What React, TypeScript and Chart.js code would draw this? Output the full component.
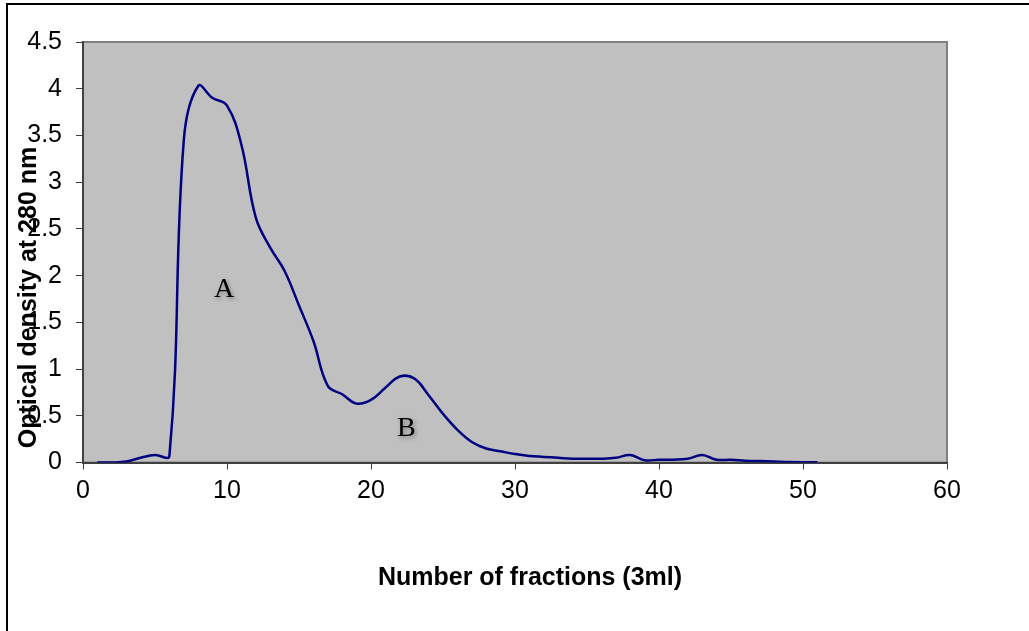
import React, { useEffect, useRef } from "react";
import { Chart, registerables } from "chart.js";

Chart.register(...registerables);

const fractions = [
  1, 2, 3, 4, 5, 6, 7, 8, 9, 10, 11, 12, 13, 14, 15, 16, 17, 18, 19, 20, 21, 22, 23, 24, 25,
  26, 27, 28, 29, 30, 31, 32, 33, 34, 35, 36, 37, 38, 39, 40, 41, 42, 43, 44, 45, 46, 47, 48,
  49, 50, 51,
];
const opticalDensity = [
  0, 0, 0.01, 0.05, 0.08, 0.07, 3.45, 4.03, 3.9, 3.82, 3.4, 2.62, 2.3, 2.05, 1.68, 1.3, 0.82,
  0.73, 0.63, 0.67, 0.8, 0.92, 0.9, 0.72, 0.52, 0.35, 0.22, 0.15, 0.12, 0.09, 0.07, 0.06, 0.05,
  0.04, 0.04, 0.04, 0.05, 0.08, 0.025, 0.03, 0.03, 0.04, 0.08, 0.03, 0.03, 0.02, 0.015, 0.01,
  0.005, 0.003, 0.003,
];
const peakLabels = ["A", "B"];
const peakLabelX = [9.8, 22.45];
const peakLabelY = [1.77, 0.28];

const xTitle = "Number of fractions (3ml)";
const yTitle = "Optical density at 280 nm";

const W = 1029;
const H = 631;

export default function App() {
  const ref = useRef<HTMLCanvasElement | null>(null);

  useEffect(() => {
    if (!ref.current) return;
    const decor = {
      id: "decor",
      beforeDraw(chart: any) {
        const { ctx, chartArea: a } = chart;
        ctx.save();
        ctx.fillStyle = "#ffffff";
        ctx.fillRect(0, 0, chart.width, chart.height);
        ctx.fillStyle = "#C0C0C0";
        ctx.fillRect(a.left, a.top, a.right - a.left, a.bottom - a.top);
        ctx.strokeStyle = "#808080";
        ctx.lineWidth = 2;
        ctx.strokeRect(a.left, a.top, a.right - a.left, a.bottom - a.top);
        ctx.restore();
      },
      afterDraw(chart: any) {
        const { ctx } = chart;
        const xs = chart.scales.x;
        const ys = chart.scales.y;
        ctx.save();
        // outer frame
        ctx.fillStyle = "#000000";
        ctx.fillRect(6, 3, W, 2);
        ctx.fillRect(6, 3, 2, H);
        // x title
        ctx.font = "bold 25px 'Liberation Sans', Arial, sans-serif";
        ctx.textAlign = "center";
        ctx.textBaseline = "alphabetic";
        ctx.fillStyle = "#000000";
        ctx.fillText(xTitle, 530, 585);
        // y title
        ctx.save();
        ctx.translate(36, 297.5);
        ctx.rotate(-Math.PI / 2);
        ctx.fillText(yTitle, 0, 0);
        ctx.restore();
        // peak labels
        ctx.font = "28px 'Liberation Serif', 'DejaVu Serif', serif";
        ctx.shadowColor = "rgba(0,0,0,0.35)";
        ctx.shadowBlur = 4;
        ctx.shadowOffsetX = 1.5;
        ctx.shadowOffsetY = 2;
        peakLabels.forEach((t, i) => {
          ctx.fillText(t, xs.getPixelForValue(peakLabelX[i]), ys.getPixelForValue(peakLabelY[i]));
        });
        ctx.restore();
      },
    };

    const chart = new Chart(ref.current, {
      type: "line",
      data: {
        datasets: [
          {
            data: fractions.map((f, i) => ({ x: f, y: opticalDensity[i] })),
            borderColor: "#000080",
            borderWidth: 2.5,
            pointRadius: 0,
            tension: 0.4,
            fill: false,
          },
        ],
      },
      options: {
        responsive: false,
        animation: false,
        devicePixelRatio: 1,
        layout: { padding: { top: 42, right: 82, bottom: 0, left: 0 } },
        plugins: { legend: { display: false }, tooltip: { enabled: false } },
        scales: {
          x: {
            type: "linear",
            min: 0,
            max: 60,
            ticks: {
              stepSize: 10,
              color: "#000000",
              padding: 7,
              maxRotation: 0,
              font: { family: "'Liberation Sans', Arial, sans-serif", size: 25 },
              callback: (v: any) => String(v),
            },
            grid: {
              drawOnChartArea: false,
              drawTicks: true,
              tickLength: 7,
              color: "#404040",
            },
            border: { display: true, color: "#404040", width: 2 },
            afterFit(scale: any) {
              scale.height = 168.5;
            },
          },
          y: {
            min: 0,
            max: 4.5,
            ticks: {
              stepSize: 0.5,
              color: "#000000",
              padding: 14,
              font: { family: "'Liberation Sans', Arial, sans-serif", size: 25 },
              callback: (v: any) => String(Math.round(Number(v) * 10) / 10),
            },
            grid: {
              drawOnChartArea: false,
              drawTicks: true,
              tickLength: 7,
              color: "#404040",
            },
            border: { display: true, color: "#404040", width: 2 },
            afterFit(scale: any) {
              scale.width = 83;
            },
          },
        },
      },
      plugins: [decor],
    });
    return () => chart.destroy();
  }, []);

  return (
    <div style={{ position: "fixed", left: 0, top: 0, width: W, height: H, background: "#fff" }}>
      <canvas ref={ref} width={W} height={H} style={{ width: W, height: H, display: "block" }} />
    </div>
  );
}
